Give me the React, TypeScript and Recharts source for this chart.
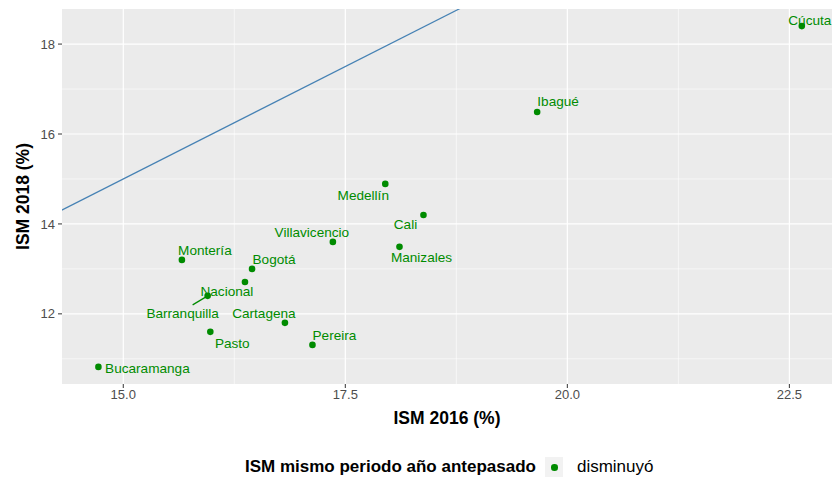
import React from "react";
import {
  ScatterChart,
  Scatter,
  XAxis,
  YAxis,
  CartesianGrid,
  ReferenceLine,
} from "recharts";

// ISM (%) by city, 2016 vs 2018
const cities = [
  "Cúcuta",
  "Ibagué",
  "Medellín",
  "Cali",
  "Manizales",
  "Villavicencio",
  "Montería",
  "Bogotá",
  "Nacional",
  "Barranquilla",
  "Cartagena",
  "Pasto",
  "Pereira",
  "Bucaramanga",
];
const ism2016 = [22.64, 19.66, 17.95, 18.38, 18.11, 17.36, 15.66, 16.45, 16.37, 15.95, 16.82, 15.98, 17.13, 14.72];
const ism2018 = [18.4, 16.49, 14.89, 14.2, 13.49, 13.6, 13.2, 13.0, 12.71, 12.4, 11.8, 11.6, 11.31, 10.82];

const xTicks = [15, 17.5, 20, 22.5];
const xMinor = [16.25, 18.75, 21.25];
const yTicks = [12, 14, 16, 18];
const yMinor = [11, 13, 15, 17];
const xDomain = [14.31, 22.98];
const yDomain = [10.44, 18.78];
const identity = [
  { x: 10, y: 10 },
  { x: 25, y: 25 },
];

const legendTitle = "ISM mismo periodo año antepasado";
const legendItem = "disminuyó";

// repelled label placement (pixels relative to point)
const labelOffsets: Record<string, { dx: number; dy: number; seg?: [number, number] }> = {
  "Cúcuta": { dx: 8, dy: -6 },
  "Ibagué": { dx: 21, dy: -11 },
  "Medellín": { dx: -22, dy: 11 },
  Cali: { dx: -18, dy: 9 },
  Manizales: { dx: 22, dy: 10 },
  Villavicencio: { dx: -21, dy: -10 },
  "Montería": { dx: 23, dy: -10 },
  "Bogotá": { dx: 22, dy: -10 },
  Nacional: { dx: -18, dy: 9 },
  Barranquilla: { dx: -25, dy: 17, seg: [-15, 9] },
  Cartagena: { dx: -21, dy: -10 },
  Pasto: { dx: 22, dy: 11 },
  Pereira: { dx: 22, dy: -10 },
  Bucaramanga: { dx: 49, dy: 1 },
};

const data = cities.map((name, i) => ({ name, x: ism2016[i], y: ism2018[i] }));

const GREEN = "#008B00";
const FONT = "'Liberation Sans', Arial, sans-serif";

const PointWithLabel = (props: any) => {
  const { cx, cy, payload } = props;
  const o = labelOffsets[payload.name] || { dx: 0, dy: -10 };
  return (
    <g>
      {o.seg && (
        <line
          x1={cx}
          y1={cy}
          x2={cx + o.seg[0]}
          y2={cy + o.seg[1]}
          stroke={GREEN}
          strokeWidth={1.2}
        />
      )}
      <circle cx={cx} cy={cy} r={3.3} fill={GREEN} />
      <text
        x={cx + o.dx}
        y={cy + o.dy}
        dy="0.35em"
        textAnchor="middle"
        fontSize={13.6}
        fontFamily={FONT}
        fill={GREEN}
      >
        {payload.name}
      </text>
    </g>
  );
};

export default function App() {
  return (
    <div
      style={{
        position: "absolute",
        left: 0,
        top: 0,
        width: 834,
        height: 478,
        background: "#fff",
        fontFamily: FONT,
      }}
    >
      <ScatterChart
        width={834}
        height={478}
        margin={{ top: 9, right: 2, left: 0, bottom: 54 }}
      >
        <CartesianGrid
          fill="#EBEBEB"
          stroke="#FFFFFF"
          strokeWidth={0.6}
          verticalValues={xMinor}
          horizontalValues={yMinor}
        />
        <CartesianGrid
          fill="none"
          stroke="#FFFFFF"
          strokeWidth={1.2}
          verticalValues={xTicks}
          horizontalValues={yTicks}
        />
        <XAxis
          type="number"
          dataKey="x"
          domain={xDomain}
          ticks={xTicks}
          allowDataOverflow
          height={40}
          axisLine={false}
          tickSize={4}
          tickMargin={2}
          tickLine={{ stroke: "#333333" }}
          tick={{ fill: "#4D4D4D", fontSize: 13, fontFamily: FONT }}
          tickFormatter={(v: number) => v.toFixed(1)}
          label={{
            content: ({ viewBox }: any) => (
              <text
                x={viewBox.x + viewBox.width / 2}
                y={viewBox.y + 40}
                textAnchor="middle"
                fontSize={17.5}
                fontWeight="bold"
                fontFamily={FONT}
                fill="#000"
              >
                ISM 2016 (%)
              </text>
            ),
          }}
        />
        <YAxis
          type="number"
          dataKey="y"
          domain={yDomain}
          ticks={yTicks}
          allowDataOverflow
          width={62}
          axisLine={false}
          tickSize={4}
          tickMargin={3}
          tickLine={{ stroke: "#333333" }}
          tick={{ fill: "#4D4D4D", fontSize: 13, fontFamily: FONT }}
          label={{
            content: ({ viewBox }: any) => {
              const cy = viewBox.y + viewBox.height / 2;
              return (
                <text
                  x={28.5}
                  y={cy}
                  transform={`rotate(-90, 28.5, ${cy})`}
                  textAnchor="middle"
                  fontSize={17.5}
                  fontWeight="bold"
                  fontFamily={FONT}
                  fill="#000"
                >
                  ISM 2018 (%)
                </text>
              );
            },
          }}
        />
        <ReferenceLine
          segment={identity}
          stroke="#4682B4"
          strokeWidth={1.2}
          ifOverflow="hidden"
        />
        <Scatter
          data={data}
          isAnimationActive={false}
          shape={PointWithLabel}
        />
      </ScatterChart>
      <div
        style={{
          position: "absolute",
          left: 245,
          top: 456,
          display: "flex",
          alignItems: "center",
          fontSize: 17,
          height: 22,
        }}
      >
        <span style={{ fontWeight: "bold" }}>{legendTitle}</span>
        <span
          style={{
            display: "inline-block",
            width: 18,
            height: 20,
            background: "#F2F2F2",
            marginLeft: 9,
            position: "relative",
          }}
        >
          <span
            style={{
              position: "absolute",
              left: 6,
              top: 7,
              width: 6.6,
              height: 6.6,
              borderRadius: "50%",
              background: GREEN,
            }}
          />
        </span>
        <span style={{ marginLeft: 14 }}>{legendItem}</span>
      </div>
    </div>
  );
}
